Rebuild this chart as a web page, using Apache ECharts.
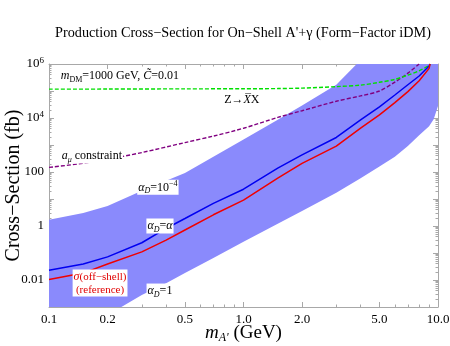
<!DOCTYPE html>
<html>
<head>
<meta charset="utf-8">
<script src="https://cdn.jsdelivr.net/npm/echarts@6/dist/echarts.min.js"></script>
<style>
html, body { margin: 0; padding: 0; background: #fff; }
#main { width: 450px; height: 346px; }
</style>
</head>
<body>
<div id="main"></div>
<script>
// masses (GeV) and cross-sections (fb)
var bandMass  = [0.1, 0.15, 0.2, 0.3, 0.4, 0.5, 0.7, 1, 1.5, 2, 3, 4, 5, 6, 7, 8, 9, 9.5, 10];
var bandUpper = [1.7, 3.0, 5.5, 20, 47, 91, 370, 1600, 8700, 29000, 170000, 1.4e6, 3.2e6, 5e6, 8e6, 1.3e7, 2e7, 2.5e7, 3e7];   // alpha_D = 1e-4
var bandLower = [3e-5, 1.6e-4, 5e-4, 0.0028, 0.0076, 0.018, 0.065, 0.26, 1.2, 3.6, 17, 59, 160, 370, 910, 2300, 5000, 9000, 28000]; // alpha_D = 1

var lineMass   = [0.1, 0.15, 0.2, 0.3, 0.4, 0.5, 0.7, 1, 1.5, 2, 3, 4, 5, 6, 7, 8, 9, 9.1];
var sigmaAlpha = [0.023, 0.039, 0.072, 0.24, 0.81, 1.9, 6.9, 23, 140, 430, 1900, 8500, 26000, 71000, 170000, 360000, 850000, 1e6];
var sigmaRef   = [0.0105, 0.018, 0.039, 0.11, 0.30, 0.71, 2.6, 9.1, 59, 210, 910, 4200, 13000, 37000, 95000, 240000, 690000, 1e6];

var zMass = [0.1, 0.2, 0.5, 1, 1.5, 2, 3, 4, 5, 6, 7, 8, 9, 9.1];
var zXX   = [117000, 118000, 120000, 121000, 123000, 128000, 145000, 165000, 210000, 270000, 390000, 560000, 880000, 1e6];

var amuMass  = [0.1, 0.15, 0.2, 0.3, 0.5, 0.7, 1, 1.5, 2, 3, 4, 5, 6, 7, 8];
var amuLimit = [148, 210, 295, 525, 1230, 2140, 4170, 10500, 18600, 41700, 66000, 100000, 214000, 457000, 1000000];

var xLabelVals = [0.1, 0.2, 0.5, 1, 2, 5, 10];
var yLabelVals = [0.01, 1, 100, 1e4, 1e6];

function pairs(xs, ys) {
  return xs.map(function (x, i) { return [x, ys[i]]; });
}

// tick positions
var xMinor = [], yMinor = [], yMajor = [];
for (var d = -1; d < 1; d++) {
  for (var k = 1; k <= 9; k++) xMinor.push(+(k * Math.pow(10, d)).toPrecision(3));
}
xMinor.push(10);
for (var e = -3; e < 6; e++) {
  yMajor.push(Math.pow(10, e));
  for (var k = 2; k <= 9; k++) yMinor.push(+(k * Math.pow(10, e)).toPrecision(3));
}
yMajor.push(1e6);

var serif = 'Liberation Serif, DejaVu Serif, serif';
var frameColor = '#a8a8a8';

function xAxisCfg(grid, pos, ticks, len, withLabels) {
  var a = {
    type: 'log', logBase: 10, gridIndex: grid, position: pos, min: 0.1, max: 10,
    axisLine: { show: grid === 0, lineStyle: { color: frameColor, width: 1 } },
    axisTick: { show: true, inside: true, length: len, customValues: ticks, lineStyle: { color: frameColor } },
    axisLabel: { show: false },
    splitLine: { show: false }
  };
  if (withLabels) {
    a.axisLabel = {
      show: true, customValues: xLabelVals, color: '#000', fontFamily: serif, fontSize: 13, margin: 6,
      formatter: function (v) { return v.toFixed(1); }
    };
    a.name = '{i|m}{sub|A\'} (GeV)';
    a.nameLocation = 'middle';
    a.nameGap = 15;
    a.nameMoveOverlap = false;
    a.nameTextStyle = {
      color: '#000', fontFamily: serif, fontSize: 19, lineHeight: 22,
      rich: {
        i: { fontFamily: serif, fontStyle: 'italic', fontSize: 19, lineHeight: 22, color: '#000' },
        sub: { fontFamily: serif, fontStyle: 'italic', fontSize: 12, lineHeight: 14, verticalAlign: 'bottom', color: '#000' }
      }
    };
  }
  return a;
}

function yAxisCfg(grid, pos, ticks, len, withLabels) {
  var a = {
    type: 'log', logBase: 10, gridIndex: grid, position: pos, min: 1e-3, max: 1e6,
    axisLine: { show: grid === 0, lineStyle: { color: frameColor, width: 1 } },
    axisTick: { show: true, inside: true, length: len, customValues: ticks, lineStyle: { color: frameColor } },
    axisLabel: { show: false },
    splitLine: { show: false }
  };
  if (withLabels) {
    a.axisLabel = {
      show: true, customValues: yLabelVals, color: '#000', fontFamily: serif, fontSize: 13, margin: 5,
      formatter: function (v) {
        var ex = Math.round(Math.log10(v));
        if (ex >= 4) return '10{sup|' + ex + '}';
        if (ex >= 0) return String(Math.pow(10, ex));
        return v.toFixed(-ex);
      },
      rich: {
        sup: { fontFamily: serif, fontSize: 9, verticalAlign: 'top', lineHeight: 16, color: '#000' }
      },
      lineHeight: 16
    };
    a.name = 'Cross\u2212Section (fb)';
    a.nameLocation = 'middle';
    a.nameGap = 25;
    a.nameMoveOverlap = false;
    a.nameTextStyle = { color: '#000', fontFamily: serif, fontSize: 20 };
  }
  return a;
}

var labelRich = {
  i: { fontFamily: serif, fontStyle: 'italic', fontSize: 12, lineHeight: 15, color: '#000' },
  sub: { fontFamily: serif, fontStyle: 'italic', fontSize: 8, lineHeight: 10, verticalAlign: 'bottom', color: '#000' },
  subn: { fontFamily: serif, fontSize: 8, lineHeight: 10, verticalAlign: 'bottom', color: '#000' },
  sup: { fontFamily: serif, fontSize: 8, lineHeight: 10, verticalAlign: 'top', color: '#000' },
  r: { fontFamily: serif, fontStyle: 'italic', fontSize: 12, lineHeight: 15, color: '#e00000' }
};

function note(coord, text, extra) {
  var lbl = {
    show: true, position: 'inside', formatter: text, color: '#000',
    fontFamily: serif, fontSize: 12, lineHeight: 15,
    backgroundColor: '#fff', padding: [0, 1, 0, 1], rich: labelRich
  };
  for (var key in extra) lbl[key] = extra[key];
  return { coord: coord, symbolSize: 0, label: lbl };
}

var gridBox = { left: 49, right: 12, top: 64, bottom: 39, outerBoundsMode: 'none' };

var myChart = echarts.init(document.getElementById('main'));

var option = {
  animation: false,
  backgroundColor: '#fff',
  title: {
    text: 'Production Cross\u2212Section for On\u2212Shell A\'+\u03b3 (Form\u2212Factor iDM)',
    left: 238, top: 21, textAlign: 'center',
    textStyle: { fontFamily: serif, fontSize: 14.2, fontWeight: 'normal', color: '#000' }
  },
  grid: [gridBox, echarts.util.clone(gridBox)],
  xAxis: [
    xAxisCfg(0, 'bottom', xLabelVals, 5, true),
    xAxisCfg(0, 'top', xLabelVals, 5, false),
    xAxisCfg(1, 'bottom', xMinor, 2.5, false),
    xAxisCfg(1, 'top', xMinor, 2.5, false)
  ],
  yAxis: [
    yAxisCfg(0, 'left', yMajor, 5, true),
    yAxisCfg(0, 'right', yMajor, 5, false),
    yAxisCfg(1, 'left', yMinor, 2.5, false),
    yAxisCfg(1, 'right', yMinor, 2.5, false)
  ],
  series: [
    {
      // band between alpha_D = 1e-4 (upper) and alpha_D = 1 (lower)
      name: 'band', type: 'custom', xAxisIndex: 0, yAxisIndex: 0, z: 1,
      data: [0],
      renderItem: function (params, api) {
        var pts = [];
        for (var i = 0; i < bandMass.length; i++) pts.push(api.coord([bandMass[i], bandUpper[i]]));
        for (var j = bandMass.length - 1; j >= 0; j--) pts.push(api.coord([bandMass[j], bandLower[j]]));
        var cs = params.coordSys;
        return {
          type: 'polygon',
          shape: { points: pts },
          style: { fill: '#8a8afc' },
          clipPath: { type: 'rect', shape: { x: cs.x, y: cs.y, width: cs.width, height: cs.height } }
        };
      }
    },
    {
      name: 'a_mu', type: 'line', data: pairs(amuMass, amuLimit), symbol: 'none', smooth: 0.3,
      lineStyle: { color: '#800080', width: 1.4, type: [4, 2] }, z: 3
    },
    {
      name: 'ZXX', type: 'line', data: pairs(zMass, zXX), symbol: 'none', smooth: 0.3,
      lineStyle: { color: '#00e000', width: 1.4, type: [4, 2] }, z: 3
    },
    {
      name: 'alphaD=alpha', type: 'line', data: pairs(lineMass, sigmaAlpha), symbol: 'none',
      lineStyle: { color: '#0000f0', width: 1.5 }, z: 3
    },
    {
      name: 'off-shell', type: 'line', data: pairs(lineMass, sigmaRef), symbol: 'none',
      lineStyle: { color: '#f00000', width: 1.5 }, z: 3
    },
    {
      name: 'notes', type: 'line', data: [], symbol: 'none',
      markPoint: {
        symbol: 'circle', symbolSize: 0, itemStyle: { color: 'transparent' },
        data: [
          note([0.107, 3.6e5], '{i|m}{subn|DM}=1000 GeV, {i|C\u0303}=0.01', { position: 'right', backgroundColor: 'transparent' }),
          note([0.98, 4.7e4], 'Z\u2192{i|X\u0305}X', { backgroundColor: 'transparent' }),
          note([0.166, 390], '{i|a}{sub|\u03bc} constraint'),
          note([0.363, 27], '{i|\u03b1}{sub|D}=10{sup|\u22124}'),
          note([0.372, 1.0], '{i|\u03b1}{sub|D}={i|\u03b1}'),
          note([0.183, 0.0078], '{r|\u03c3}(off\u2212shell)\n(reference)', { color: '#e00000', fontSize: 11, lineHeight: 12 }),
          note([0.372, 0.0039], '{i|\u03b1}{sub|D}=1')
        ]
      }
    }
  ]
};

myChart.setOption(option);
</script>
</body>
</html>
